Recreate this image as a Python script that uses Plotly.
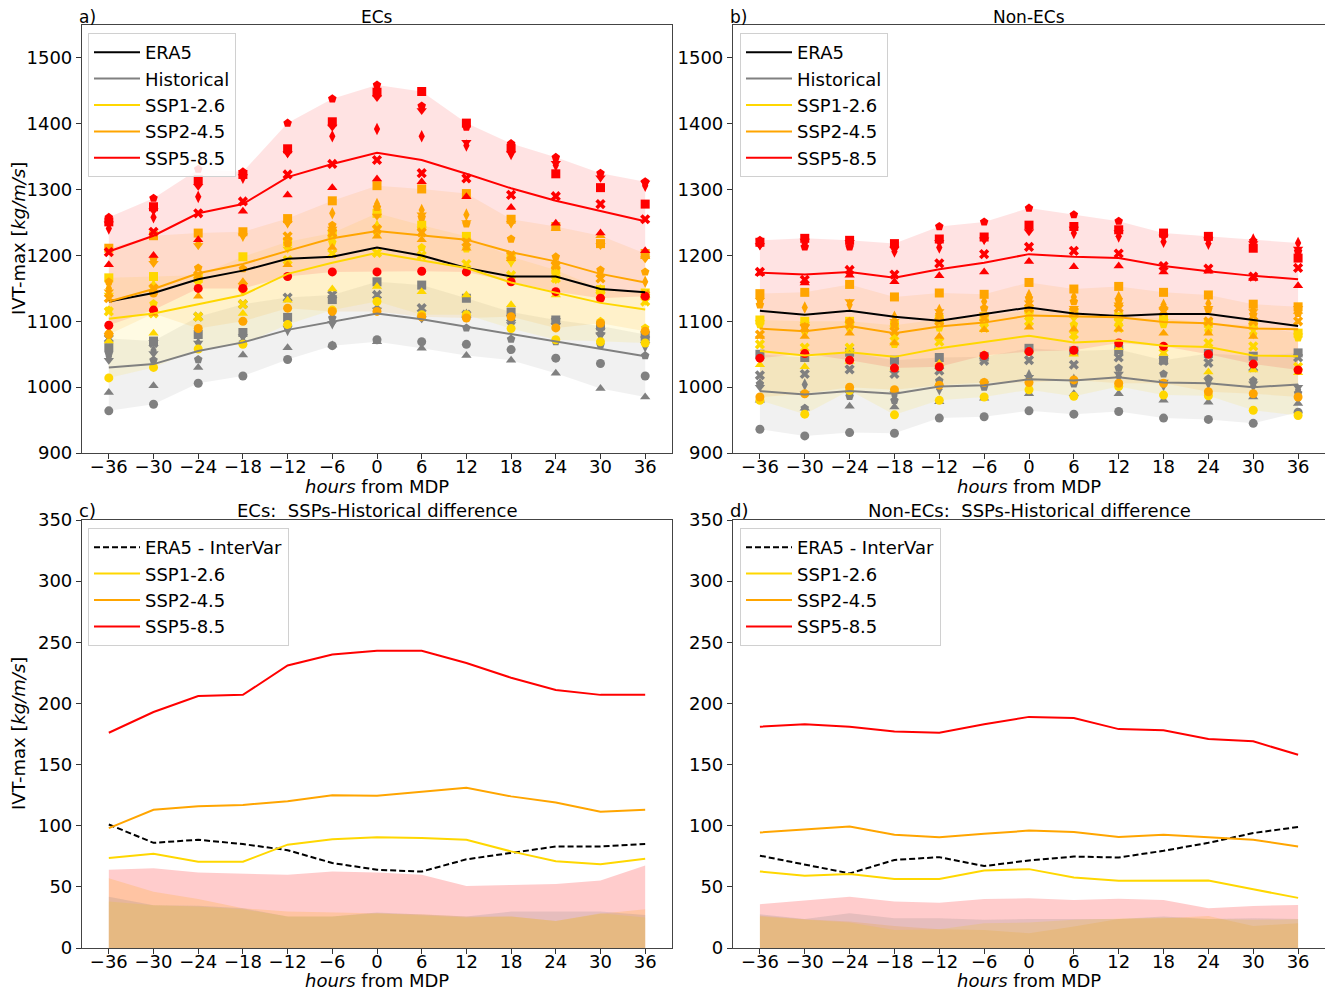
import plotly.graph_objects as go

W, H = 1325, 985     # page body adds an 8px offset; figure positions are compensated below
OFF = 8
hours = [-36, -30, -24, -18, -12, -6, 0, 6, 12, 18, 24, 30, 36]
model_symbols = ["circle", "triangle-up", "square", "diamond-tall", "pentagon", "x", "triangle-down"]

# ---------------- Panel a (ECs): scenario means ----------------
ec_era5 = [1130, 1143, 1164, 1177, 1195, 1198, 1212, 1200, 1181, 1168, 1168, 1149, 1144]
ec_hist = [1030, 1035, 1055, 1068, 1087, 1099, 1112, 1103, 1092, 1080, 1069, 1059, 1047]
ec_ssp126 = [1104, 1112, 1126, 1140, 1172, 1189, 1204, 1193, 1181, 1159, 1143, 1128, 1118]
ec_ssp245 = [1130, 1149, 1173, 1187, 1207, 1226, 1237, 1230, 1224, 1205, 1191, 1172, 1159]
ec_ssp585 = [1206, 1230, 1264, 1278, 1319, 1339, 1356, 1345, 1324, 1302, 1283, 1268, 1252]

# individual models (rows follow model_symbols)
ec_hist_models = [
    [964, 974, 1006, 1017, 1042, 1063, 1072, 1069, 1065, 1057, 1044, 1036, 1017],
    [992, 1002, 1030, 1049, 1060, 1064, 1069, 1059, 1048, 1041, 1021, 998, 985],
    [1060, 1070, 1080, 1083, 1106, 1133, 1160, 1155, 1135, 1114, 1102, 1093, 1076],
    [1046, 1056, 1067, 1077, 1087, 1097, 1120, 1107, 1110, 1100, 1095, 1078, 1062],
    [1051, 1041, 1042, 1068, 1090, 1105, 1118, 1107, 1090, 1073, 1069, 1064, 1048],
    [1074, 1067, 1107, 1126, 1136, 1140, 1140, 1120, 1110, 1105, 1100, 1085, 1080],
    [1041, 1051, 1067, 1077, 1090, 1097, 1117, 1104, 1105, 1095, 1094, 1080, 1065],
]
ec_ssp126_models = [
    [1014, 1030, 1058, 1065, 1095, 1117, 1130, 1110, 1110, 1089, 1072, 1069, 1067],
    [1070, 1082, 1105, 1112, 1132, 1149, 1153, 1145, 1140, 1125, 1140, 1150, 1140],
    [1166, 1168, 1165, 1198, 1221, 1234, 1264, 1246, 1229, 1198, 1178, 1148, 1143],
    [1150, 1155, 1162, 1150, 1215, 1230, 1245, 1234, 1215, 1191, 1170, 1145, 1133],
    [1117, 1127, 1160, 1150, 1218, 1220, 1234, 1212, 1210, 1195, 1175, 1100, 1090],
    [1115, 1112, 1107, 1126, 1193, 1203, 1204, 1200, 1187, 1170, 1165, 1140, 1130],
    [1140, 1150, 1170, 1145, 1210, 1225, 1240, 1240, 1222, 1190, 1163, 1140, 1138],
]
ec_ssp245_models = [
    [1080, 1143, 1089, 1100, 1120, 1115, 1115, 1107, 1105, 1107, 1090, 1097, 1085],
    [1084, 1112, 1138, 1160, 1186, 1212, 1229, 1224, 1211, 1195, 1241, 1230, 1198],
    [1211, 1230, 1234, 1236, 1256, 1283, 1306, 1301, 1294, 1255, 1244, 1218, 1203],
    [1150, 1191, 1218, 1230, 1250, 1264, 1278, 1269, 1262, 1250, 1188, 1170, 1160],
    [1160, 1195, 1181, 1180, 1218, 1246, 1273, 1258, 1248, 1225, 1198, 1178, 1175],
    [1135, 1150, 1170, 1153, 1229, 1234, 1240, 1235, 1220, 1200, 1185, 1165, 1140],
    [1145, 1188, 1215, 1230, 1249, 1240, 1260, 1262, 1250, 1249, 1185, 1215, 1195],
]
ec_ssp585_models = [
    [1094, 1117, 1150, 1150, 1168, 1175, 1175, 1176, 1175, 1160, 1145, 1135, 1138],
    [1186, 1200, 1224, 1267, 1292, 1303, 1316, 1312, 1289, 1273, 1249, 1234, 1207],
    [1251, 1274, 1315, 1323, 1362, 1403, 1448, 1449, 1401, 1363, 1324, 1303, 1278],
    [1241, 1258, 1289, 1318, 1357, 1381, 1392, 1381, 1367, 1354, 1337, 1320, 1306],
    [1258, 1287, 1331, 1327, 1401, 1438, 1459, 1427, 1395, 1370, 1349, 1325, 1312],
    [1205, 1236, 1264, 1282, 1323, 1339, 1345, 1325, 1317, 1292, 1290, 1278, 1255],
    [1248, 1268, 1305, 1320, 1355, 1395, 1440, 1420, 1372, 1355, 1340, 1318, 1310],
]

# ---------------- Panel b (Non-ECs) ----------------
nec_era5 = [1116, 1110, 1116, 1107, 1101, 1111, 1121, 1112, 1108, 1111, 1111, 1102, 1093]
nec_hist = [994, 989, 994, 990, 1001, 1003, 1012, 1010, 1015, 1007, 1006, 1000, 1004]
nec_ssp126 = [1055, 1048, 1053, 1046, 1059, 1069, 1078, 1068, 1071, 1063, 1061, 1048, 1047]
nec_ssp245 = [1089, 1085, 1093, 1082, 1092, 1098, 1109, 1108, 1106, 1099, 1097, 1089, 1088]
nec_ssp585 = [1174, 1171, 1175, 1166, 1179, 1189, 1202, 1198, 1196, 1184, 1176, 1169, 1164]

nec_hist_models = [
    [936, 926, 931, 930, 953, 955, 964, 959, 963, 953, 951, 945, 962],
    [980, 968, 971, 970, 978, 983, 990, 990, 990, 980, 977, 985, 975],
    [1050, 1045, 1053, 1041, 1045, 1046, 1059, 1055, 1057, 1041, 1051, 1047, 1052],
    [1005, 1004, 996, 987, 997, 1005, 1018, 1011, 1016, 1003, 1006, 1002, 996],
    [1005, 968, 986, 980, 1010, 1000, 1010, 1005, 1029, 1020, 1013, 1010, 991],
    [1018, 1020, 1027, 1020, 1025, 1040, 1041, 1034, 1045, 1040, 1037, 1030, 1045],
    [1000, 990, 990, 990, 1000, 1005, 1015, 1008, 1020, 1008, 1010, 1005, 1000],
]
nec_ssp126_models = [
    [980, 959, 995, 958, 980, 985, 996, 986, 1001, 988, 987, 965, 957],
    [1034, 1031, 1039, 1029, 1036, 1050, 1055, 1050, 1060, 1051, 1023, 1026, 1022],
    [1102, 1100, 1100, 1094, 1103, 1107, 1117, 1112, 1107, 1105, 1097, 1094, 1082],
    [1097, 1089, 1095, 1079, 1092, 1100, 1110, 1077, 1100, 1100, 1090, 1082, 1080],
    [1095, 1085, 1090, 1065, 1090, 1095, 1105, 1095, 1095, 1095, 1085, 1080, 1075],
    [1065, 1060, 1060, 1070, 1069, 1090, 1100, 1080, 1090, 1060, 1067, 1062, 1031],
    [1098, 1095, 1095, 1090, 1098, 1100, 1112, 1105, 1100, 1100, 1092, 1088, 1078],
]
nec_ssp245_models = [
    [985, 990, 1000, 996, 1003, 1007, 1007, 1011, 1006, 1006, 993, 990, 985],
    [1077, 1077, 1082, 1067, 1077, 1087, 1091, 1088, 1088, 1082, 1082, 1077, 1115],
    [1142, 1144, 1156, 1137, 1143, 1141, 1159, 1149, 1153, 1144, 1140, 1126, 1122],
    [1130, 1121, 1125, 1107, 1117, 1130, 1140, 1137, 1137, 1125, 1127, 1117, 1118],
    [1125, 1092, 1100, 1095, 1110, 1120, 1135, 1130, 1133, 1120, 1118, 1110, 1112],
    [1080, 1090, 1095, 1085, 1100, 1105, 1120, 1115, 1120, 1115, 1100, 1100, 1100],
    [1132, 1092, 1130, 1100, 1115, 1110, 1128, 1120, 1125, 1118, 1120, 1115, 1120],
]
nec_ssp585_models = [
    [1044, 1051, 1041, 1029, 1031, 1048, 1054, 1056, 1067, 1062, 1050, 1035, 1026],
    [1173, 1158, 1170, 1160, 1169, 1175, 1191, 1183, 1184, 1175, 1176, 1165, 1154],
    [1220, 1226, 1223, 1218, 1225, 1228, 1246, 1244, 1239, 1234, 1229, 1211, 1196],
    [1217, 1218, 1218, 1206, 1212, 1225, 1240, 1234, 1229, 1221, 1218, 1224, 1219],
    [1223, 1213, 1213, 1213, 1244, 1251, 1272, 1262, 1252, 1232, 1227, 1222, 1206],
    [1175, 1163, 1178, 1171, 1188, 1202, 1213, 1207, 1203, 1184, 1180, 1168, 1181],
    [1215, 1222, 1220, 1210, 1220, 1224, 1236, 1240, 1235, 1228, 1224, 1218, 1210],
]

# ---------------- Panel c (ECs differences) ----------------
ec_d_era5 = [101, 86, 88.5, 85, 80, 69.5, 64, 62.5, 72.5, 77.5, 83, 83, 85]
ec_d_ssp126 = [73.5, 77, 70.5, 70.5, 84.5, 89, 90.5, 90, 88.5, 79, 71, 68.5, 73]
ec_d_ssp245 = [98, 113, 116, 117, 120, 125, 124.5, 128, 131, 124, 119, 111.5, 113]
ec_d_ssp585 = [176, 193, 206, 207, 231, 240, 243, 243, 233, 221, 211, 207, 207]
ec_s_era5 = [42, 35, 34.5, 32.5, 25.7, 25.7, 29, 27.6, 25.7, 29.8, 29.8, 29.8, 27]
ec_s_ssp126 = [38, 35, 34, 31.7, 25.7, 25.7, 28.4, 27, 25, 25.7, 22, 28.4, 25]
ec_s_ssp245 = [57, 46, 40, 32.5, 29.8, 29.2, 28.4, 27.6, 25.7, 25.7, 22, 28, 31.7]
ec_s_ssp585 = [64, 65.3, 61.7, 60.6, 59.8, 62.6, 61.7, 59.8, 50.8, 51.6, 52.4, 55.2, 67.5]

# ---------------- Panel d (Non-ECs differences) ----------------
nec_d_era5 = [75.5, 68, 61, 72, 74.3, 67, 71.6, 74.8, 74, 79.5, 86, 94, 99]
nec_d_ssp126 = [62.6, 59, 60.6, 56.5, 56.5, 63.4, 64.5, 57.6, 55, 55.2, 55.2, 48, 41]
nec_d_ssp245 = [94.5, 96.7, 99.4, 92.6, 90.5, 93.4, 96, 94.8, 90.7, 92.6, 90.7, 88.5, 83]
nec_d_ssp585 = [181, 183, 181, 177, 176, 183, 189, 188, 179, 178, 171, 169, 158]
nec_s_era5 = [27.6, 23.8, 28.4, 24.3, 24.3, 23, 23.8, 23.8, 23.8, 25.7, 23.8, 24.3, 23.8]
nec_s_ssp126 = [25.7, 23.5, 20.8, 14.7, 15.3, 20.2, 20.8, 23, 23.8, 24.9, 23.8, 23, 23.5]
nec_s_ssp245 = [26.5, 23.5, 21.6, 18, 15.3, 14.7, 12, 17.5, 23.8, 24.3, 26.2, 18, 20.2]
nec_s_ssp585 = [35.8, 38.8, 42, 38, 37.1, 40, 40.7, 39.3, 40.2, 39.3, 32.5, 34.4, 35.2]

# ---------------- styling ----------------
C_ERA5, C_HIST, C_126, C_245, C_585 = "black", "#808080", "#FFD700", "#FFA500", "#FF0000"
FONT = "DejaVu Sans"
FS = 18


def rgba(hexc, a):
    hexc = hexc.lstrip("#")
    r, g, b = int(hexc[0:2], 16), int(hexc[2:4], 16), int(hexc[4:6], 16)
    return f"rgba({r},{g},{b},{a})"


fig = go.Figure()

top_panels = [
    ("x", "y", "legend",
     [("ERA5", ec_era5, C_ERA5, None), ("Historical", ec_hist, C_HIST, ec_hist_models),
      ("SSP1-2.6", ec_ssp126, C_126, ec_ssp126_models), ("SSP2-4.5", ec_ssp245, C_245, ec_ssp245_models),
      ("SSP5-8.5", ec_ssp585, C_585, ec_ssp585_models)]),
    ("x2", "y2", "legend2",
     [("ERA5", nec_era5, C_ERA5, None), ("Historical", nec_hist, C_HIST, nec_hist_models),
      ("SSP1-2.6", nec_ssp126, C_126, nec_ssp126_models), ("SSP2-4.5", nec_ssp245, C_245, nec_ssp245_models),
      ("SSP5-8.5", nec_ssp585, C_585, nec_ssp585_models)]),
]

for xa, ya, leg, series in top_panels:
    # shaded min-max bands of the models
    for name, mean, col, models in series:
        if models is None:
            continue
        lo = [min(m[i] for m in models) for i in range(len(hours))]
        hi = [max(m[i] for m in models) for i in range(len(hours))]
        fig.add_trace(go.Scatter(x=hours + hours[::-1], y=hi + lo[::-1], fill="toself",
                                 fillcolor=rgba(col, 0.11), line=dict(width=0), mode="lines",
                                 hoverinfo="skip", showlegend=False, xaxis=xa, yaxis=ya))
    # model markers
    for name, mean, col, models in series:
        if models is None:
            continue
        for sym, vals in zip(model_symbols, models):
            fig.add_trace(go.Scatter(x=hours, y=vals, mode="markers",
                                     marker=dict(symbol=sym, size=9, color=col, line=dict(width=0)),
                                     showlegend=False, xaxis=xa, yaxis=ya))
    # mean lines
    for name, mean, col, models in series:
        fig.add_trace(go.Scatter(x=hours, y=mean, mode="lines", name=name,
                                 line=dict(color=col, width=2), legend=leg, xaxis=xa, yaxis=ya))

bottom_panels = [
    ("x3", "y3", "legend3",
     [(C_585, ec_s_ssp585), (C_245, ec_s_ssp245), (C_126, ec_s_ssp126), (C_HIST, ec_s_era5)],
     [("ERA5 - InterVar", ec_d_era5, C_ERA5, "dash"), ("SSP1-2.6", ec_d_ssp126, C_126, "solid"),
      ("SSP2-4.5", ec_d_ssp245, C_245, "solid"), ("SSP5-8.5", ec_d_ssp585, C_585, "solid")]),
    ("x4", "y4", "legend4",
     [(C_585, nec_s_ssp585), (C_245, nec_s_ssp245), (C_126, nec_s_ssp126), (C_HIST, nec_s_era5)],
     [("ERA5 - InterVar", nec_d_era5, C_ERA5, "dash"), ("SSP1-2.6", nec_d_ssp126, C_126, "solid"),
      ("SSP2-4.5", nec_d_ssp245, C_245, "solid"), ("SSP5-8.5", nec_d_ssp585, C_585, "solid")]),
]

for xa, ya, leg, bands, lines in bottom_panels:
    for col, vals in bands:
        fig.add_trace(go.Scatter(x=hours, y=vals, fill="tozeroy", fillcolor=rgba(col, 0.2),
                                 line=dict(width=0), mode="lines", hoverinfo="skip",
                                 showlegend=False, xaxis=xa, yaxis=ya))
    for name, vals, col, dash in lines:
        fig.add_trace(go.Scatter(x=hours, y=vals, mode="lines", name=name,
                                 line=dict(color=col, width=2, dash=dash if dash == "solid" else "6px,3px"),
                                 legend=leg, xaxis=xa, yaxis=ya))

# ---------------- layout ----------------
def px_x(p):
    return (p - OFF) / W


def px_y(p):
    return 1 - (p - OFF) / H


xdom_l = [px_x(82), px_x(672)]
xdom_r = [px_x(733), px_x(1325)]
ydom_t = [px_y(453), px_y(25)]
ydom_b = [px_y(948), px_y(520)]

axis_common = dict(showline=True, mirror=True, linecolor="#444444", linewidth=1.2, ticks="outside",
                   ticklen=5, tickwidth=1, tickcolor="#333333", showgrid=False, zeroline=False,
                   automargin=False, tickfont=dict(family=FONT, size=FS, color="black"))
xax = dict(axis_common, range=[-39.6, 39.6], tickvals=hours, ticklabelstandoff=-8)

legend_common = dict(font=dict(family=FONT, size=FS, color="black"), bgcolor="rgba(255,255,255,0.85)",
                     bordercolor="#d0d0d0", borderwidth=1, xanchor="left", yanchor="top",
                     tracegroupgap=0, itemwidth=46, traceorder="normal")

fig.update_layout(
    width=W, height=H, margin=dict(l=0, r=0, t=0, b=0, autoexpand=False),
    plot_bgcolor="white", paper_bgcolor="white",
    font=dict(family=FONT, size=FS, color="black"),
    xaxis=dict(xax, domain=xdom_l, anchor="y"),
    yaxis=dict(axis_common, domain=ydom_t, range=[900, 1550], tickvals=[900, 1000, 1100, 1200, 1300, 1400, 1500], anchor="x"),
    xaxis2=dict(xax, domain=xdom_r, anchor="y2"),
    yaxis2=dict(axis_common, domain=ydom_t, range=[900, 1550], tickvals=[900, 1000, 1100, 1200, 1300, 1400, 1500], anchor="x2"),
    xaxis3=dict(xax, domain=xdom_l, anchor="y3"),
    yaxis3=dict(axis_common, domain=ydom_b, range=[0, 350], tickvals=list(range(0, 351, 50)), anchor="x3"),
    xaxis4=dict(xax, domain=xdom_r, anchor="y4"),
    yaxis4=dict(axis_common, domain=ydom_b, range=[0, 350], tickvals=list(range(0, 351, 50)), anchor="x4"),
    legend=dict(legend_common, x=px_x(88), y=px_y(33)),
    legend2=dict(legend_common, x=px_x(740), y=px_y(33)),
    legend3=dict(legend_common, x=px_x(88), y=px_y(528)),
    legend4=dict(legend_common, x=px_x(740), y=px_y(528)),
)

annots = []


def txt(text, x, y, xanchor="center", yanchor="middle", angle=0, size=FS):
    annots.append(dict(text=text, x=px_x(x), y=px_y(y), xref="paper", yref="paper", showarrow=False,
                       xanchor=xanchor, yanchor=yanchor, textangle=angle, borderpad=0,
                       font=dict(family=FONT, size=size, color="black")))


txt("a)", 78, 17, xanchor="left", size=17)
txt("ECs", 377, 17, size=17)
txt("b)", 729, 17, xanchor="left", size=17)
txt("Non-ECs", 1029, 17, size=17)
txt("c)", 78, 511, xanchor="left")
txt("ECs:\u00a0 SSPs-Historical difference", 377, 511)
txt("d)", 729, 511, xanchor="left")
txt("Non-ECs:\u00a0 SSPs-Historical difference", 1029, 511)
txt("<i>hours</i> from MDP", 377, 486)
txt("<i>hours</i> from MDP", 1029, 486)
txt("<i>hours</i> from MDP", 377, 980)
txt("<i>hours</i> from MDP", 1029, 980)
txt("IVT-max [<i>kg/m/s</i>]", 18, 239, angle=-90)
txt("IVT-max [<i>kg/m/s</i>]", 18, 734, angle=-90)
fig.update_layout(annotations=annots)

fig.write_html("out.html")
